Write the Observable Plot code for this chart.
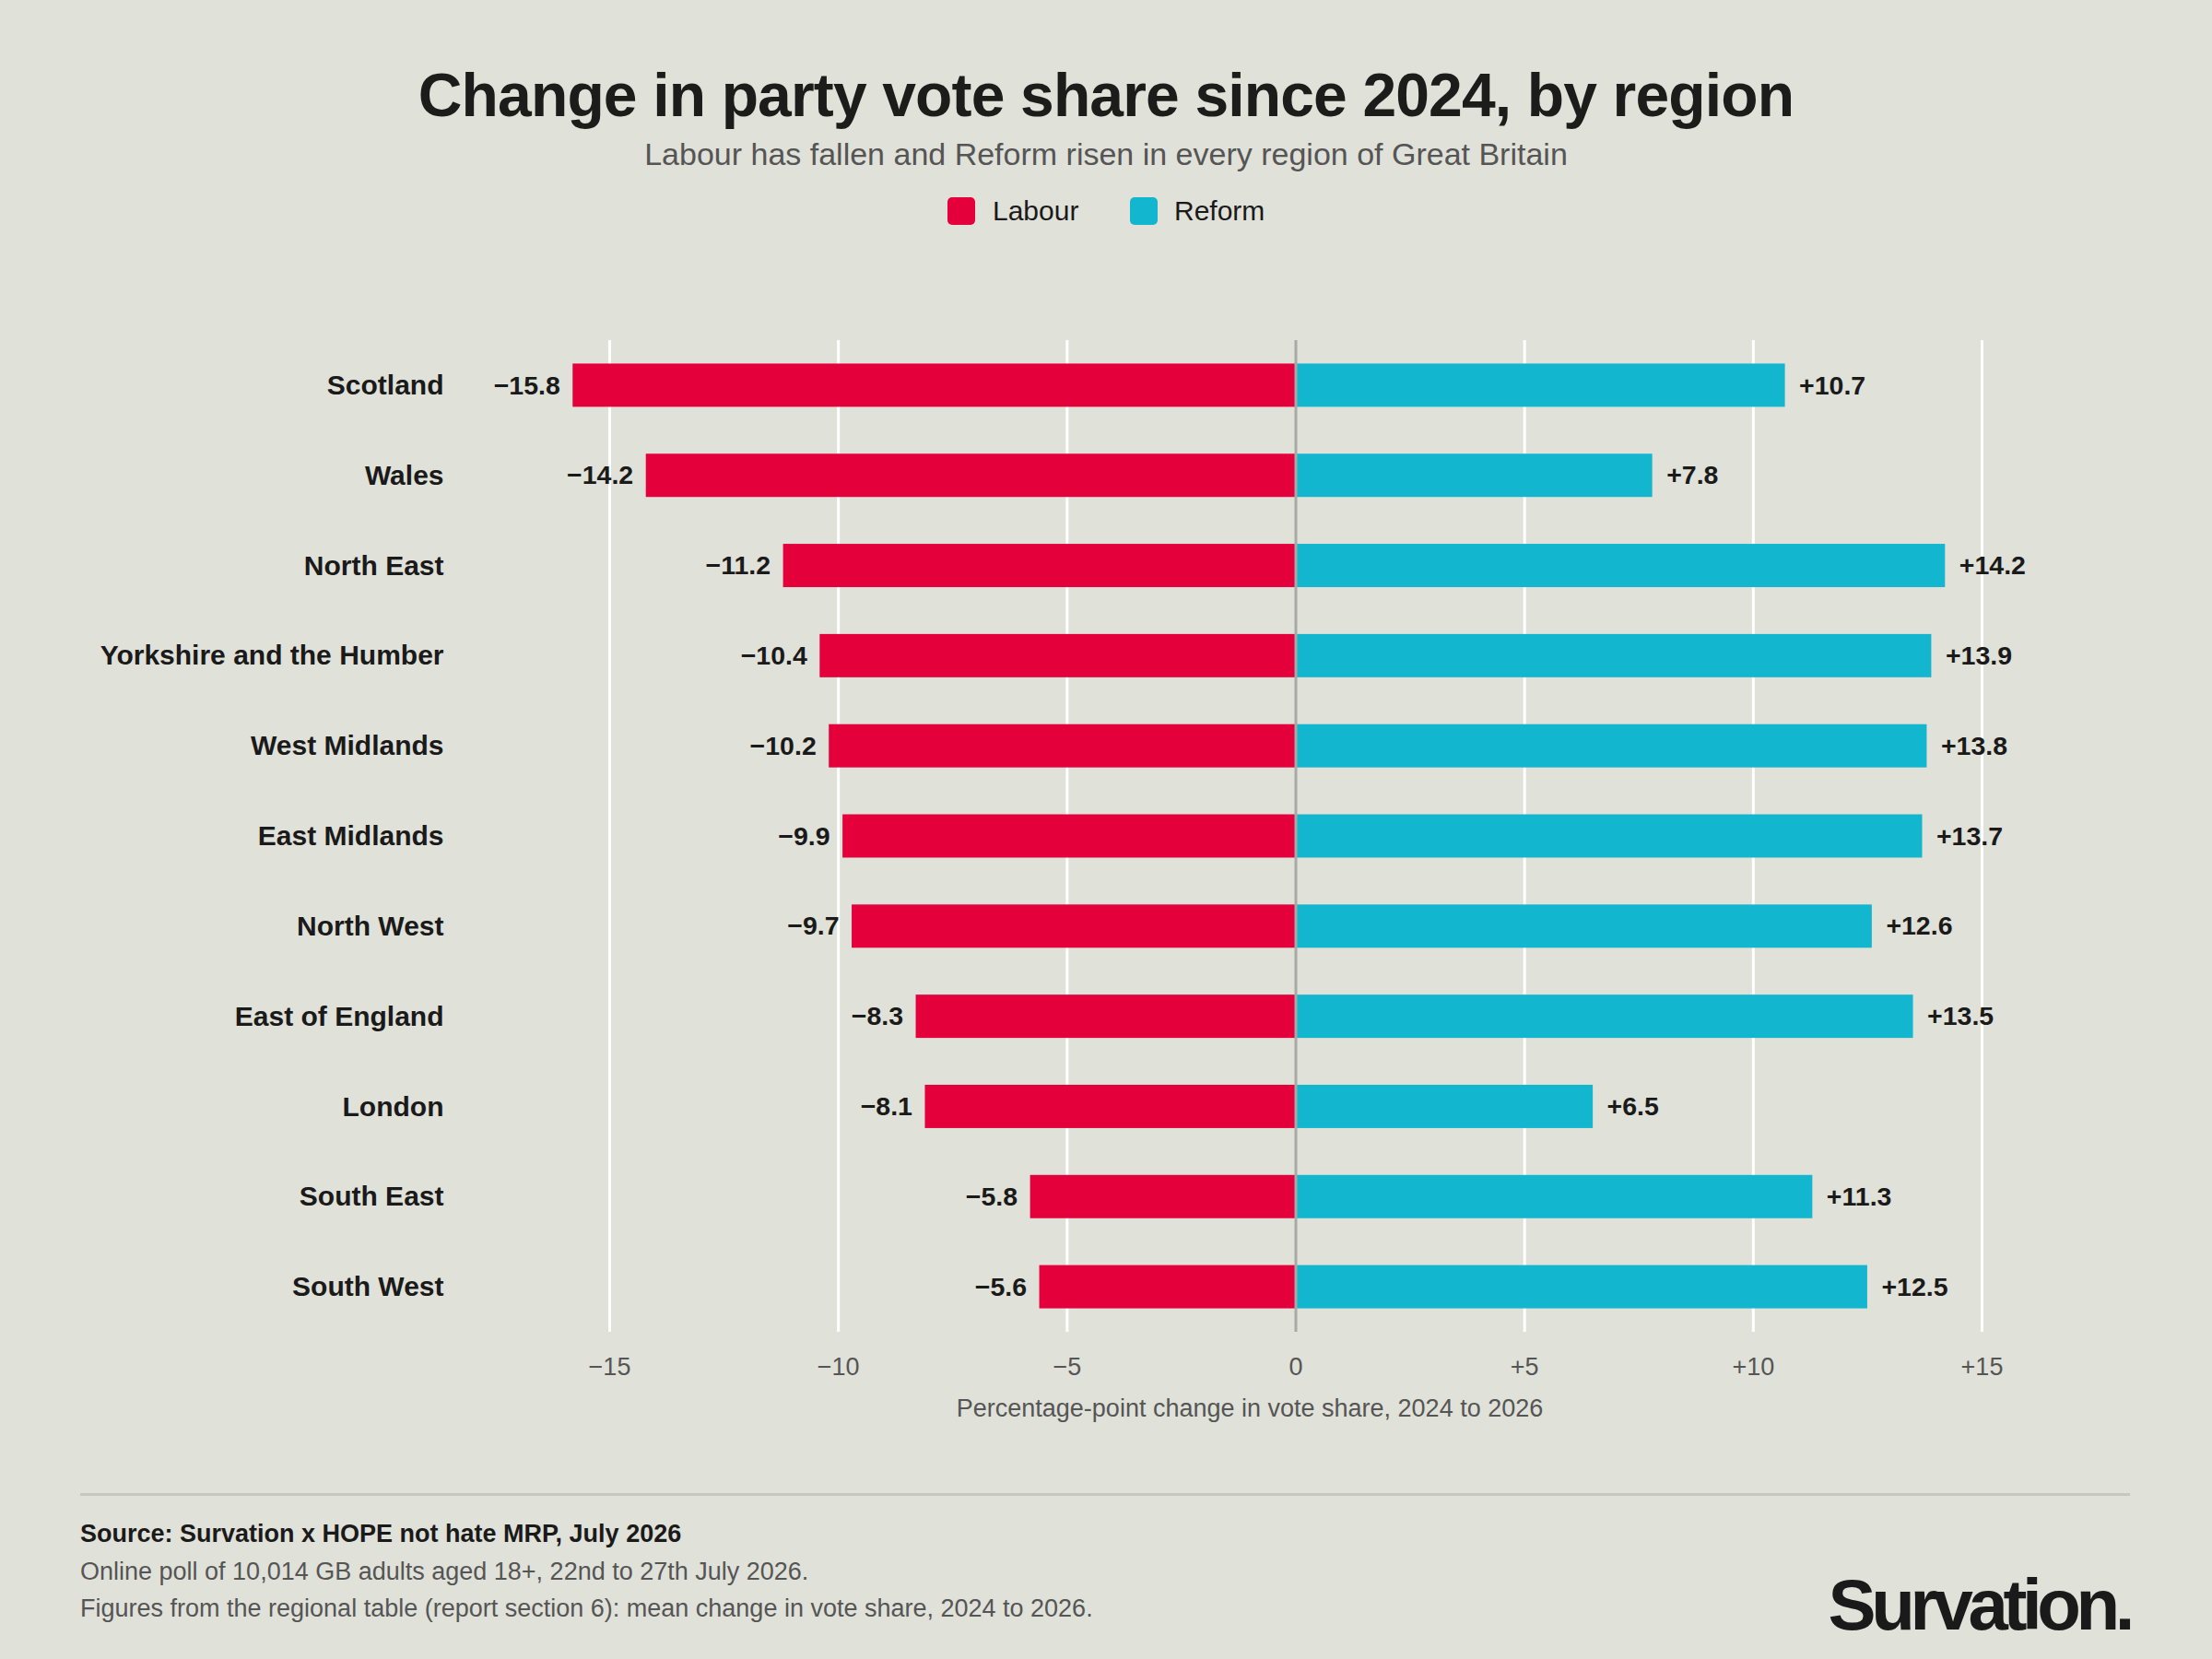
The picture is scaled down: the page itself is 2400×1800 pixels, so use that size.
<!DOCTYPE html>
<html>
<head>
<meta charset="utf-8">
<script src="https://cdn.jsdelivr.net/npm/d3@7"></script>
<script src="https://cdn.jsdelivr.net/npm/@observablehq/plot@0.6"></script>
<style>
  html, body { margin: 0; padding: 0; background: #e0e1d9; }
  #page { position: relative; width: 2400px; height: 1800px; background: #e0e1d9; overflow: hidden;
          font-family: "Liberation Sans", Arial, Helvetica, sans-serif; color: #1a1a1a; }
  .abs { position: absolute; white-space: nowrap; }
  #title { left: 0; width: 2400px; text-align: center; top: 64px; font-size: 66px; line-height: 78px; font-weight: 700; letter-spacing: -0.85px; color: #1c1c1a; }
  #subtitle { left: 0; width: 2400px; text-align: center; top: 146px; font-size: 34px; line-height: 42px; color: #555; }
  .sw { position: absolute; width: 30px; height: 30px; border-radius: 5px; top: 214px; }
  .lg { position: absolute; top: 210px; font-size: 30px; line-height: 38px; color: #1a1a1a; }
  #xlabel { left: 1356px; transform: translateX(-50%); top: 1511px; font-size: 27px; line-height: 34px; color: #555; }
  #divider { left: 87px; width: 2224px; top: 1620px; height: 3px; background: #c6c7bf; }
  .foot { left: 87px; font-size: 27px; line-height: 34px; }
  #logo { right: 89px; top: 1696px; font-size: 78px; line-height: 90px; font-weight: 700; letter-spacing: -5.4px; color: #1a1a1a; }
  #chart { position: absolute; left: 0; top: 0; }
</style>
</head>
<body>
<div id="page">
  <div id="chart"></div>
  <div id="title" class="abs">Change in party vote share since 2024, by region</div>
  <div id="subtitle" class="abs">Labour has fallen and Reform risen in every region of Great Britain</div>
  <div class="sw" style="left:1028px;background:#e4003b"></div>
  <div class="lg" style="left:1077px">Labour</div>
  <div class="sw" style="left:1226px;background:#12b6cf"></div>
  <div class="lg" style="left:1274px">Reform</div>
  <div id="xlabel" class="abs">Percentage-point change in vote share, 2024 to 2026</div>
  <div id="divider" class="abs"></div>
  <div class="abs foot" style="top:1647px;font-weight:700;color:#1a1a1a">Source: Survation x HOPE not hate MRP, July 2026</div>
  <div class="abs foot" style="top:1688px;color:#555">Online poll of 10,014 GB adults aged 18+, 22nd to 27th July 2026.</div>
  <div class="abs foot" style="top:1728px;color:#555">Figures from the regional table (report section 6): mean change in vote share, 2024 to 2026.</div>
  <div id="logo" class="abs">Survation.</div>
</div>
<script>
const regions = ["Scotland", "Wales", "North East", "Yorkshire and the Humber", "West Midlands",
  "East Midlands", "North West", "East of England", "London", "South East", "South West"];
const labour = [-15.8, -14.2, -11.2, -10.4, -10.2, -9.9, -9.7, -8.3, -8.1, -5.8, -5.6];
const reform = [10.7, 7.8, 14.2, 13.9, 13.8, 13.7, 12.6, 13.5, 6.5, 11.3, 12.5];
const parties = ["Labour", "Reform"];
const partyColors = ["#e4003b", "#12b6cf"];
const xTicks = [-15, -10, -5, 0, 5, 10, 15];

const fmt = d => d > 0 ? "+" + d : d < 0 ? "\u2212" + Math.abs(d) : "0";

const table = [];
regions.forEach((r, i) => {
  table.push({region: r, party: "Labour", value: labour[i]});
  table.push({region: r, party: "Reform", value: reform[i]});
});
const labRows = table.filter(d => d.party === "Labour");
const refRows = table.filter(d => d.party === "Reform");

const chart = Plot.plot({
  width: 2400,
  height: 1800,
  marginTop: 369,
  marginBottom: 355,
  marginLeft: 661,
  marginRight: 250,
  style: {background: "transparent", fontFamily: "'Liberation Sans', Arial, Helvetica, sans-serif"},
  x: {domain: [-15, 15], axis: null},
  y: {domain: regions, paddingInner: 0.52, paddingOuter: 0.26, round: false, axis: null},
  color: {domain: parties, range: partyColors},
  marks: [
    Plot.ruleX(xTicks.filter(d => d !== 0), {x: d => d, stroke: "#ffffff", strokeWidth: 3}),
    Plot.barX(table, {x: "value", y: "region", fill: "party"}),
    Plot.ruleX([0], {x: d => d, stroke: "#a9a9a6", strokeWidth: 3}),
    Plot.text(labRows, {x: "value", y: "region", text: d => fmt(d.value), textAnchor: "end", dx: -14,
      fontSize: 28.5, fontWeight: "bold", fill: "#1a1a1a"}),
    Plot.text(refRows, {x: "value", y: "region", text: d => fmt(d.value), textAnchor: "start", dx: 15,
      fontSize: 28.5, fontWeight: "bold", fill: "#1a1a1a"}),
    Plot.text(regions, {y: d => d, text: d => d, frameAnchor: "left", textAnchor: "end", dx: -180,
      fontSize: 30, fontWeight: "bold", fill: "#1a1a1a"}),
    Plot.text(xTicks, {x: d => d, text: d => fmt(d), frameAnchor: "bottom", dy: 38,
      fontSize: 27, fill: "#555555", lineAnchor: "middle"})
  ]
});
document.getElementById("chart").appendChild(chart);
</script>
</body>
</html>
